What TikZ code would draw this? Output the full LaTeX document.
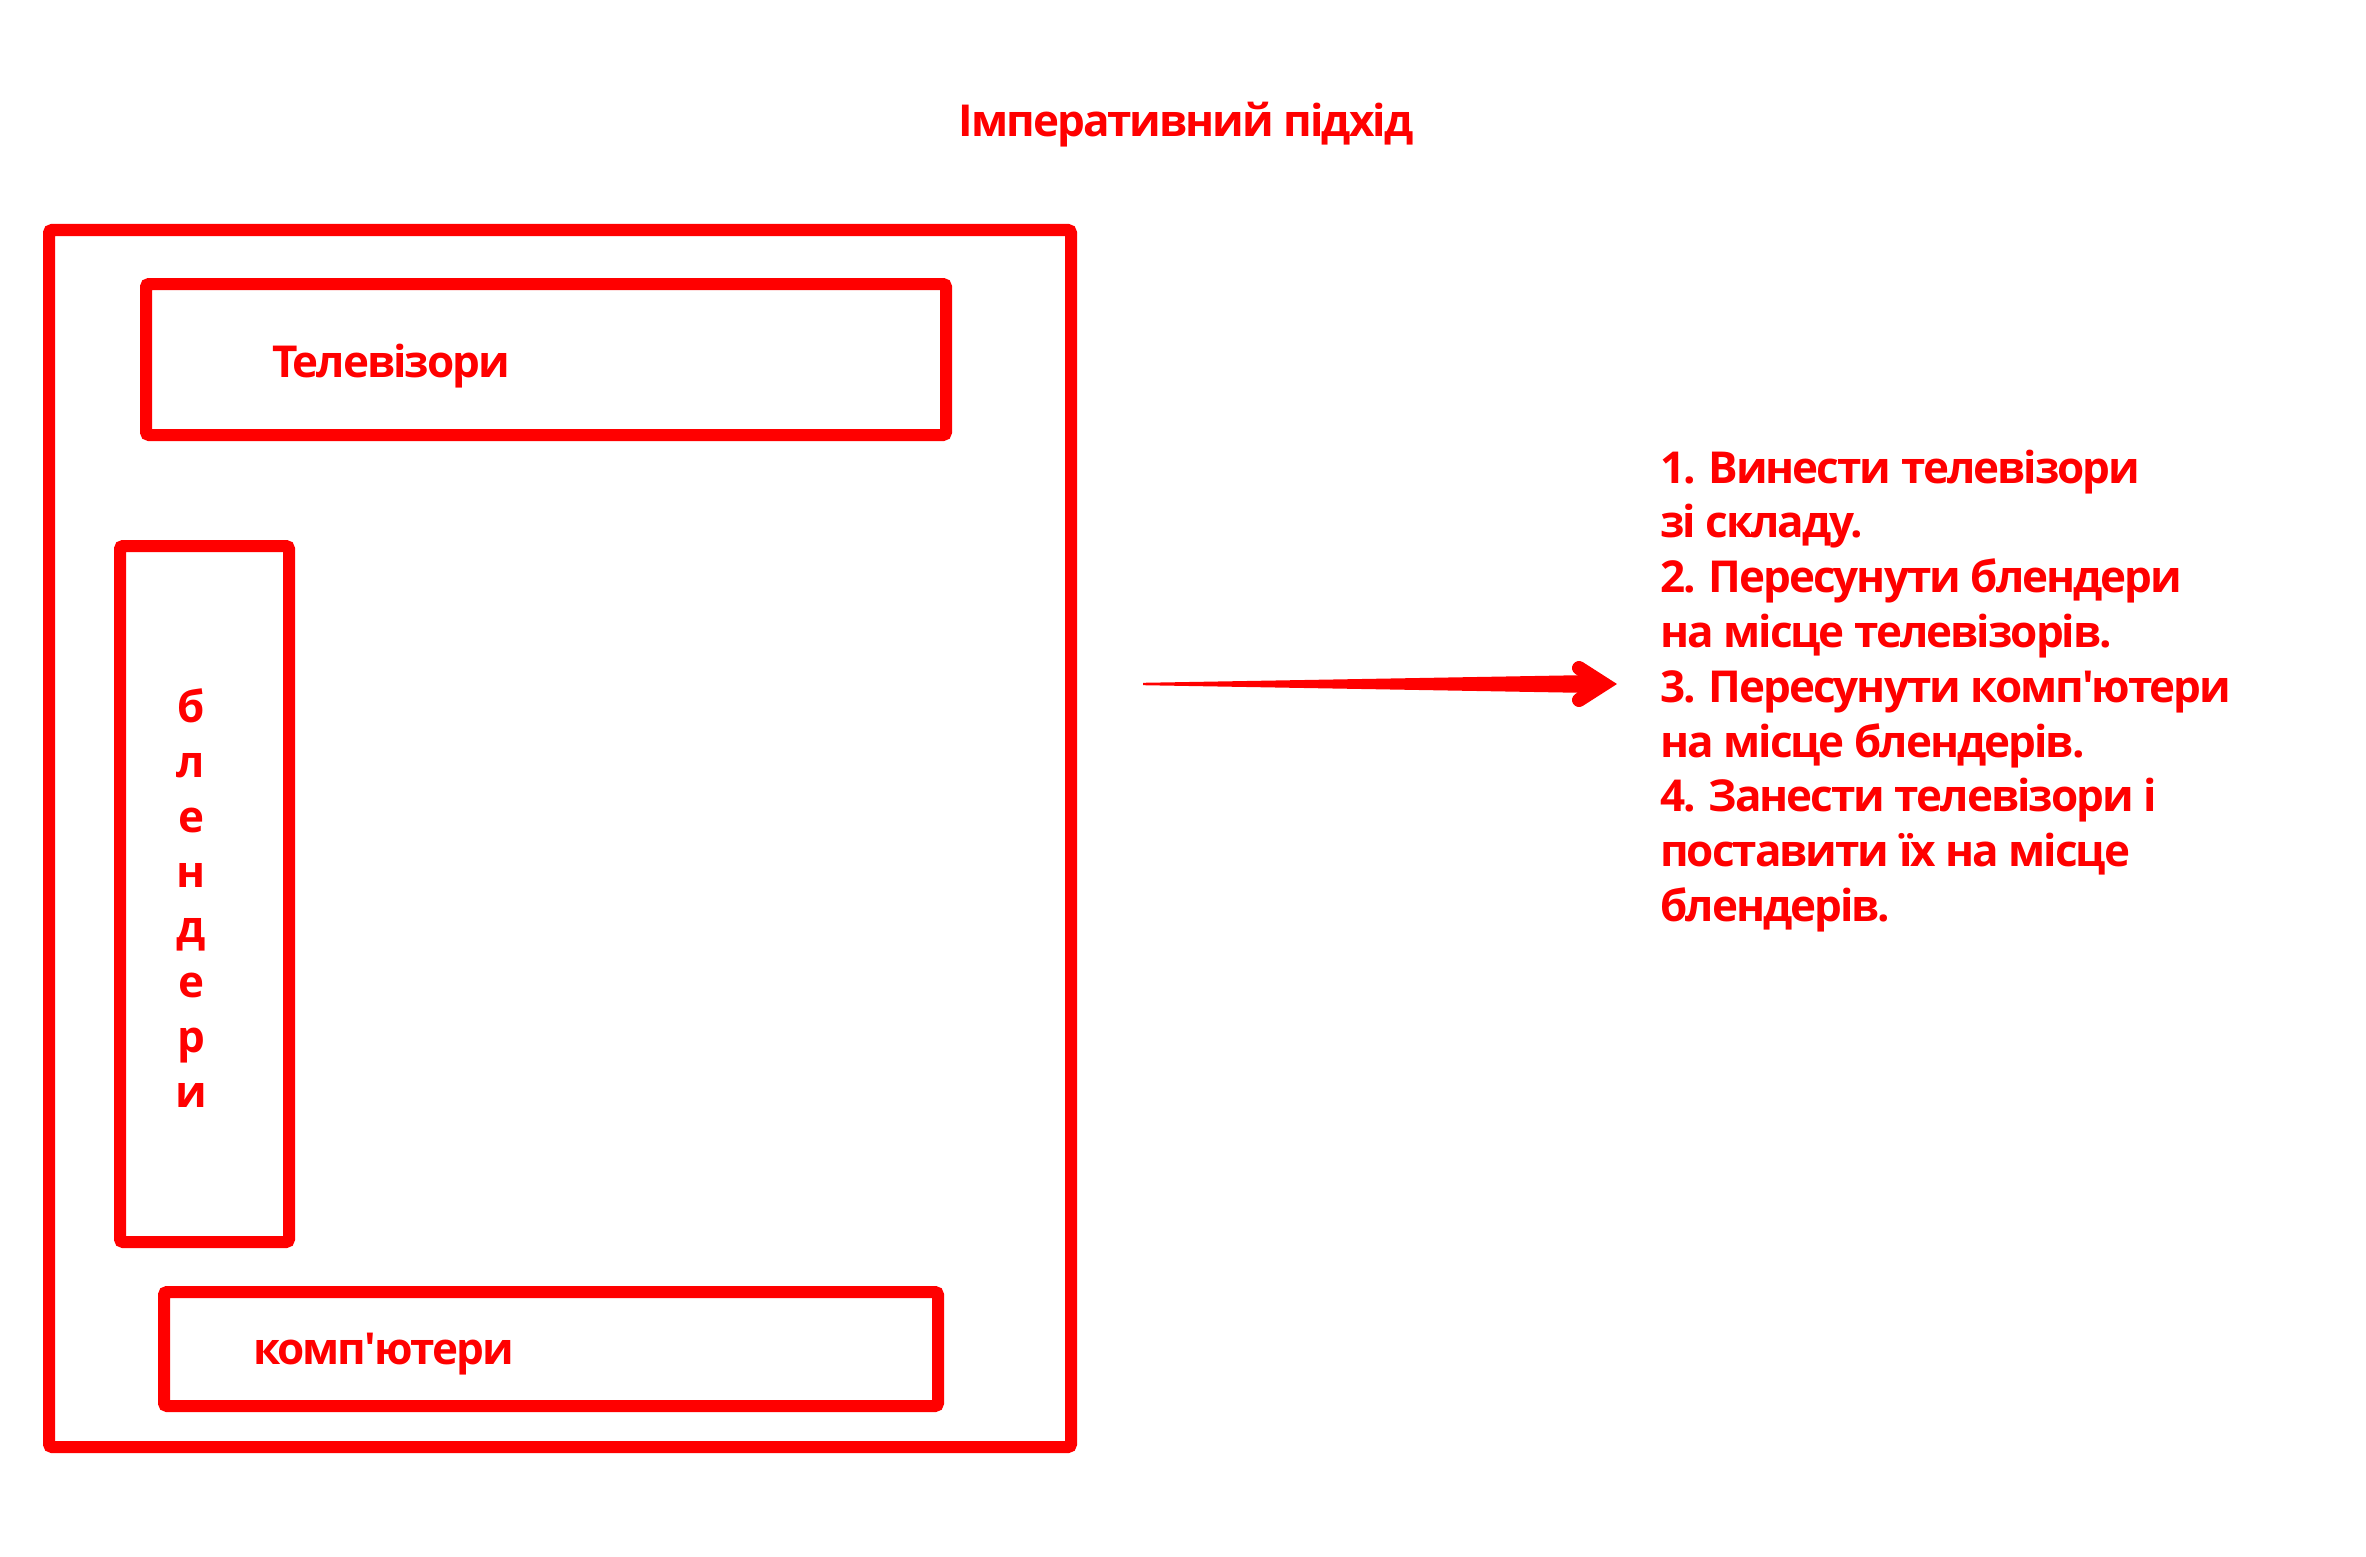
\documentclass[tikz,border=0pt]{standalone}
\usepackage{fontspec}
\usetikzlibrary{calc}
\setmainfont{Open Sans}[Ligatures=TeXOff,LetterSpace=-4.5]
\definecolor{red0}{HTML}{FF0000}
\begin{document}
\begin{tikzpicture}[x=1pt,y=-1pt,
  box/.style={draw=red0,line width=12pt,rounded corners=3pt},
  lbl/.style={text=red0,font=\bfseries\fontsize{44}{55}\selectfont,inner sep=0pt},
  ]
\useasboundingbox[fill=white] (0,0) rectangle (2366,1557);
% boxes
\draw[box] (49,230) rectangle (1071,1447);
\draw[box] (146,284) rectangle (946,435);
\draw[box] (120,546) rectangle (289,1242);
\draw[box] (164,1292) rectangle (938,1406);
% labels
\node[lbl,anchor=base] (title) at (1186,137) {Імперативний підхід};
\node[lbl,anchor=base west] (tv) at (272,377) {Телевізори};
\node[lbl,anchor=base west] (comp) at (253,1364) {комп'ютери};
\foreach \ch [count=\i] in {б,л,е,н,д,е,р,и}
  \node[lbl,anchor=base] (bl\i) at (191,{722+55*(\i-1)}) {\ch};
% list
\foreach \ln [count=\i] in {{1. Винести телевізори},{зі складу.},{2. Пересунути блендери},{на місце телевізорів.},{3. Пересунути комп'ютери},{на місце блендерів.},{4. Занести телевізори і},{поставити їх на місце},{блендерів.}}
  \node[lbl,anchor=base west] (l\i) at (1660,{483+54.8*(\i-1)}) {\ln};
% arrow
\coordinate (aS) at (1143,684);
\coordinate (aT) at (1604,684);
\fill[red0] ($(aS)+(0,-1.2)$) -- (1592,675) -- (1592,693) -- ($(aS)+(0,1.2)$) -- cycle;
\draw[red0,line width=14pt,line cap=round,line join=miter] (1579,668) -- (aT) -- (1579,700);
\end{tikzpicture}
\end{document}
